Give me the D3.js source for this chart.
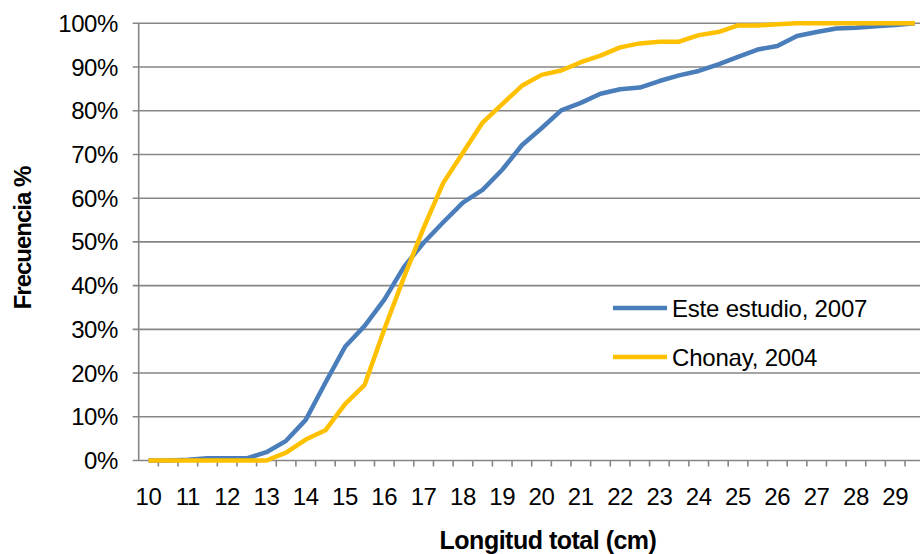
<!DOCTYPE html>
<head>
	<meta charset="utf-8">
	<script src="https://d3js.org/d3.v7.min.js"></script>
	<style>
		body { margin: 0; background: #fff; }
		text { font-family: "Liberation Sans", Arial, sans-serif; fill: #000; }
	</style>
</head>
<body>
	<div id="chart"></div>
	<script>

	// size of the picture
	var width = 920,
	height = 554;

	// categories: total length in cm, half cm steps
	var lengths = [10, 10.5, 11, 11.5, 12, 12.5, 13, 13.5, 14, 14.5,
	               15, 15.5, 16, 16.5, 17, 17.5, 18, 18.5, 19, 19.5,
	               20, 20.5, 21, 21.5, 22, 22.5, 23, 23.5, 24, 24.5,
	               25, 25.5, 26, 26.5, 27, 27.5, 28, 28.5, 29, 29.5];

	// cumulative frequency, percent
	var esteEstudio = [0, 0, 0.2, 0.5, 0.5, 0.5, 1.9, 4.5, 9.3, 17.8,
	                   26, 30.8, 36.8, 44.3, 49.8, 54.5, 59, 61.9, 66.5, 72.1,
	                   76, 80.1, 81.8, 83.9, 84.9, 85.3, 86.8, 88.1, 89.1, 90.6,
	                   92.3, 94, 94.8, 97.1, 98, 98.8, 99, 99.3, 99.6, 100];

	var chonay = [0, 0, 0, 0, 0, 0, 0, 1.8, 4.8, 6.9,
	              12.9, 17.3, 30, 41.9, 53.2, 63.5, 70.4, 77.3, 81.5, 85.7,
	              88.2, 89.2, 91.1, 92.6, 94.5, 95.4, 95.8, 95.8, 97.3, 98,
	              99.5, 99.5, 99.8, 100, 100, 100, 100, 100, 100, 100];

	var seriesNames = ["Este estudio, 2007", "Chonay, 2004"];
	var seriesColors = ["#4a7ebb", "#ffc000"];
	var yTicks = [0, 10, 20, 30, 40, 50, 60, 70, 80, 90, 100];

	// plot area
	var plotLeft = 138.7, plotTop = 23.3, plotBottom = 460.5;

	var svg = d3.select("#chart").append("svg")
	  .attr("width", width)
	  .attr("height", height);

	var x = d3.scaleBand()
		.domain(lengths)
		.range([plotLeft, plotLeft + 19.65 * lengths.length]);

	var y = d3.scaleLinear()
		.domain([0, 100])
		.range([plotBottom, plotTop]);

	// gridlines
	svg.append("g")
		.selectAll("line")
		.data(yTicks)
		.join("line")
		  .attr("x1", plotLeft - 6)
		  .attr("x2", width)
		  .attr("y1", d => y(d))
		  .attr("y2", d => y(d))
		  .attr("stroke", "#868686")
		  .attr("stroke-width", 1.6);

	// y axis line
	svg.append("line")
		.attr("x1", plotLeft).attr("x2", plotLeft)
		.attr("y1", plotTop).attr("y2", plotBottom)
		.attr("stroke", "#868686")
		.attr("stroke-width", 1.6);

	// y labels
	svg.append("g")
		.selectAll("text")
		.data(yTicks)
		.join("text")
		  .attr("x", 118)
		  .attr("y", d => y(d) + 8.5)
		  .attr("text-anchor", "end")
		  .style("font-size", "24px")
		  .style("letter-spacing", "-0.4px")
		  .text(d => d + "%");

	// x ticks between categories
	svg.append("g")
		.selectAll("line")
		.data(lengths)
		.join("line")
		  .attr("x1", d => x(d) + x.bandwidth())
		  .attr("x2", d => x(d) + x.bandwidth())
		  .attr("y1", plotBottom)
		  .attr("y2", plotBottom + 6)
		  .attr("stroke", "#868686")
		  .attr("stroke-width", 1.6);

	// x labels, every whole cm
	svg.append("g")
		.selectAll("text")
		.data(lengths.filter(d => d % 1 === 0))
		.join("text")
		  .attr("x", d => x(d) + x.bandwidth() / 2)
		  .attr("y", 505)
		  .attr("text-anchor", "middle")
		  .style("font-size", "24px")
		  .style("letter-spacing", "-0.4px")
		  .text(d => d);

	// axis titles
	svg.append("text")
		.attr("x", 548)
		.attr("y", 549)
		.attr("text-anchor", "middle")
		.style("font-size", "25px")
		.style("font-weight", "bold")
		.style("letter-spacing", "-0.5px")
		.text("Longitud total (cm)");

	svg.append("text")
		.attr("transform", "translate(31,238) rotate(-90)")
		.attr("text-anchor", "middle")
		.style("font-size", "24px")
		.style("font-weight", "bold")
		.style("letter-spacing", "-1px")
		.text("Frecuencia %");

	// the two curves
	var line = d3.line()
		.x((d, i) => x(lengths[i]) + x.bandwidth() / 2)
		.y(d => y(d));

	svg.append("g")
		.selectAll("path")
		.data([esteEstudio, chonay])
		.join("path")
		  .attr("fill", "none")
		  .attr("stroke", (d, i) => seriesColors[i])
		  .attr("stroke-width", 4.5)
		  .attr("stroke-linejoin", "round")
		  .attr("d", line);

	// legend
	var legend = svg.append("g")
		.selectAll("g")
		.data(seriesNames)
		.join("g")
		  .attr("transform", (d, i) => "translate(613," + (308 + i * 49) + ")");

	legend.append("line")
		.attr("x1", 0).attr("x2", 54)
		.attr("stroke", (d, i) => seriesColors[i])
		.attr("stroke-width", 4.5);

	legend.append("text")
		.attr("x", 59)
		.attr("y", 8.5)
		.style("font-size", "24px")
		.style("letter-spacing", "-0.2px")
		.text(d => d);

</script>
</body>
